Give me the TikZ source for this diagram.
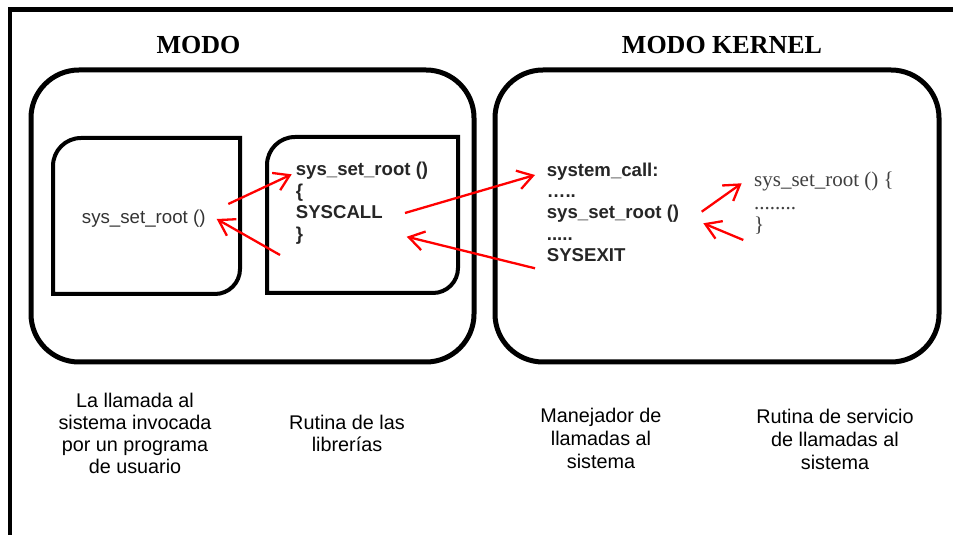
\documentclass[tikz,border=0pt]{standalone}
\usepackage{fontspec}
\setmainfont{Liberation Serif}
\newfontfamily\arialfont{Liberation Sans}
\usetikzlibrary{arrows.meta}

\definecolor{codegray}{HTML}{333333}
\definecolor{codedark}{HTML}{262626}
\definecolor{timesgray}{HTML}{404040}

\begin{document}
\begin{tikzpicture}[x=1pt,y=1pt,
  frameline/.style={line width=4.3pt},
  modebox/.style={line width=5pt, rounded corners=48pt},
  routinebox/.style={line width=4pt},
  title/.style={font=\fontsize{26}{30}\selectfont\bfseries, anchor=base, inner sep=0pt},
  plaincode/.style={font=\arialfont\fontsize{18.7}{21}\selectfont, text=codegray, anchor=base west, inner sep=0pt},
  boldcode/.style={font=\arialfont\fontsize{18.6}{21}\selectfont\bfseries, text=codedark, anchor=base west, inner sep=0pt},
  servcode/.style={font=\fontsize{21}{24}\selectfont, text=timesgray, anchor=base west, inner sep=0pt},
  caption/.style={font=\arialfont\fontsize{19.8}{23}\selectfont, anchor=base, inner sep=0pt},
  flow/.style={draw=red, line width=2.3pt, -{Straight Barb[length=15pt,width=19pt]}}
]
\useasboundingbox (0,0) rectangle (953,535);

% outer frame (open to the right and below)
\draw[frameline] (10,-10) -- (10,525.5) -- (970,525.5);

% user mode and kernel mode areas
\draw[modebox] (31,173) rectangle (474,465);
\draw[modebox] (495,173) rectangle (939,465);

% user program box
\draw[routinebox] (53,241) -- (53,369) arc[start angle=180,end angle=90,radius=28]
  -- (240,397) -- (240,266) arc[start angle=0,end angle=-90,radius=25] -- cycle;
% library routine box
\draw[routinebox] (267,242) -- (267,370) arc[start angle=180,end angle=90,radius=28]
  -- (458,398) -- (458,267) arc[start angle=0,end angle=-90,radius=25] -- cycle;

% titles
\node[title] (tuser) at (198.5,481) {MODO};
\node[title] (tkern) at (722,481) {MODO KERNEL};

% user program call
\node[plaincode] (ucall) at (81.7,311) {sys\_set\_root ()};

% library routine
\node[boldcode] (lib1) at (295.7,359) {sys\_set\_root ()};
\node[boldcode] (lib2) at (295.7,337.5) {\{};
\node[boldcode] (lib3) at (295.7,316) {SYSCALL};
\node[boldcode] (lib4) at (295.7,294.5) {\}};

% system call handler
\node[boldcode] (h1) at (546.7,358.5) {system\_call:};
\node[boldcode] (h2) at (546.7,337) {\char"2026..};
\node[boldcode] (h3) at (546.7,316) {sys\_set\_root ()};
\node[boldcode] (h4) at (546.7,294.5) {.....};
\node[boldcode] (h5) at (546.7,273) {SYSEXIT};

% service routine
\node[servcode] (s1) at (754,348) {sys\_set\_root () \{};
\node[servcode] (s2) at (754,325.5) {........};
\node[servcode] (s3) at (754,303) {\}};

% captions
\node[caption] (c1a) at (135,127) {La llamada al};
\node[caption] (c1b) at (135,105) {sistema invocada};
\node[caption] (c1c) at (135,83.3) {por un programa};
\node[caption] (c1d) at (135,61.5) {de usuario};

\node[caption] (c2a) at (347,105.5) {Rutina de las};
\node[caption] (c2b) at (347,83) {librerías};

\node[caption] (c3a) at (601,112.5) {Manejador de};
\node[caption] (c3b) at (601,89.5) {llamadas al};
\node[caption] (c3c) at (601,66) {sistema};

\node[caption] (c4a) at (835,111) {Rutina de servicio};
\node[caption] (c4b) at (835,88.3) {de llamadas al};
\node[caption] (c4c) at (835,65) {sistema};

% arrow ends
\coordinate (a1s) at (228.3,331);
\coordinate (a1e) at (291.7,360.7);
\coordinate (a2s) at (280,280);
\coordinate (a2e) at (216.7,316);
\coordinate (a3s) at (405,322);
\coordinate (a3e) at (535,360);
\coordinate (a4s) at (535,266.7);
\coordinate (a4e) at (406.7,298.3);
\coordinate (a5s) at (701.7,323.3);
\coordinate (a5e) at (741.7,351.7);
\coordinate (a6s) at (743.3,295);
\coordinate (a6e) at (703.3,311.7);

% call and return flow
\draw[flow] (a1s) -- (a1e);
\draw[flow] (a2s) -- (a2e);
\draw[flow] (a3s) -- (a3e);
\draw[flow] (a4s) -- (a4e);
\draw[flow] (a5s) -- (a5e);
\draw[flow] (a6s) -- (a6e);
\end{tikzpicture}
\end{document}
